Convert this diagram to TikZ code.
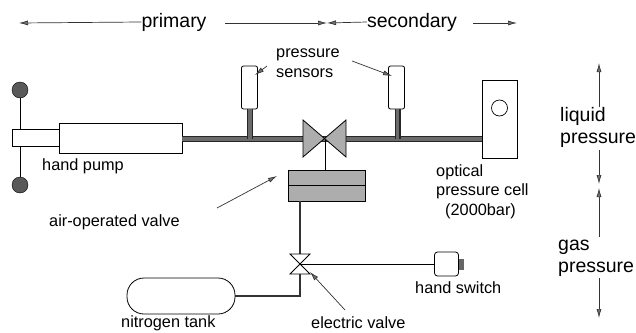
\documentclass[tikz,border=0pt]{standalone}
\usepackage{fontspec}
\setmainfont{Liberation Sans}
\usetikzlibrary{arrows.meta}
\definecolor{pipegray}{gray}{0.42}
\definecolor{fillgray}{gray}{0.68}
\tikzset{
    lbl/.style={inner sep=0pt, align=left, font=\fontsize{16.3}{19.5}\selectfont},
    biglbl/.style={inner sep=0pt, align=left, font=\fontsize{19.5}{22}\selectfont},
    arr/.style={-{Latex[length=9pt,width=5pt,fill=black!55]}, line width=0.7pt, draw=black!80},
    box/.style={draw, line width=0.8pt, fill=white, inner sep=0pt},
    pipe/.style={line width=6pt, draw=black!85, postaction={draw=pipegray, line width=3.5pt}},
    gaspipe/.style={line width=2.8pt, draw=black!80}
}
\begin{document}
\begin{tikzpicture}[x=1pt, y=-1pt]
    \useasboundingbox (0,0) rectangle (636,332);
    % Define pipes first
    \coordinate (tee1) at (250,139);
    \coordinate (tee2) at (397.5,139);
    \coordinate (vc) at (325,139);
    \coordinate (ev) at (300,264);
    \coordinate (bend) at (300,296);

    % Define nodes
    \node[biglbl] (primary) at (174,22) {primary};
    \node[biglbl] (secondary) at (412,22) {secondary};
    \node[circle, fill=black!65, draw=black, inner sep=0pt, minimum size=16pt] (knob1) at (20,90) {};
    \node[circle, fill=black!65, draw=black, inner sep=0pt, minimum size=16pt] (knob2) at (20,185) {};
    \draw[line width=0.8pt] (knob1) -- (knob2);
    \node[box, minimum width=47pt, minimum height=17pt] (piston) at (36,137.5) {};
    \node[box, minimum width=123pt, minimum height=30pt] (pump) at (120.5,138) {};
    \node[box, rounded corners=2pt, minimum width=16pt, minimum height=43pt] (sensor1) at (249.5,87.5) {};
    \node[box, rounded corners=2pt, minimum width=16pt, minimum height=43pt] (sensor2) at (396.5,87.5) {};
    \node[box, minimum width=35pt, minimum height=78pt] (cell) at (499.5,119) {};
    \node[draw, circle, line width=0.7pt, minimum size=16pt, inner sep=0pt] (window) at (499.5,108) {};
    \node[box, fill=fillgray, minimum width=77pt, minimum height=31pt] (air) at (327,185.5) {};
    \node[box, rounded corners=3pt, minimum width=24pt, minimum height=24pt] (switch) at (446.5,264) {};
    \node[inner sep=0pt, fill=black!60, minimum width=5pt, minimum height=11pt, anchor=west] (button) at (switch.east) {};
    \node[draw, line width=0.8pt, rounded corners=17pt, minimum width=108pt, minimum height=36pt, inner sep=0pt] (tank) at (181,296) {};

    % Draw lines
    \draw[line width=0.8pt] (air.west) -- (air.east);
    \draw[pipe] (pump.east |- vc) -- (cell.west |- vc);
    \draw[pipe] (sensor1.south -| tee1) -- (tee1);
    \draw[pipe] (sensor2.south -| tee2) -- (tee2);
    \draw[line width=0.8pt] (vc) -- (air.north -| vc);
    \draw[gaspipe] (air.south -| ev) -- (ev);
    \draw[gaspipe] (ev) -- (bend) -- (tank.east |- bend);
    \draw[line width=0.8pt] (ev) -- (switch.west);

    % Valves
    \draw[line width=0.8pt, fill=fillgray] (303,120) -- (346,157) -- (346,120) -- (303,157) -- cycle;
    \draw[line width=0.8pt, fill=white] (290,254) -- (310,274) -- (290,274) -- (310,254) -- cycle;

    % Add labels
    \node[lbl, anchor=west] (pumplbl) at (42,166) {hand pump};
    \node[lbl, anchor=west] (sensorlbl) at (276,63) {pressure\\sensors};
    \node[lbl, anchor=west] (airlbl) at (49,222) {air-operated valve};
    \node[lbl, anchor=west] (celllbl) at (436,191.5) {optical\\pressure cell\\\hspace*{9pt}(2000bar)};
    \node[lbl, anchor=west] (switchlbl) at (415,288) {hand switch};
    \node[lbl, anchor=west] (tanklbl) at (121,323) {nitrogen tank};
    \node[lbl, anchor=west] (valvelbl) at (311,323) {electric valve};
    \node[biglbl, anchor=west] (liquid) at (560,127) {liquid\\pressure};
    \node[biglbl, anchor=west] (gas) at (558,258) {gas\\pressure};

    % Define free ends of the arrows
    \coordinate (p1) at (19,23);
    \coordinate (p2) at (225,23);
    \coordinate (p3) at (327,23);
    \coordinate (s1) at (473,23);
    \coordinate (s2) at (517,23);

    % Draw arrows
    \draw[arr] (primary.west) -- (p1);
    \draw[arr] (p2) -- (p3);
    \draw[arr] (secondary.west) -- (p3);
    \draw[arr] (s1) -- (s2);
    \draw[arr] (599,107) -- (599,63);
    \draw[arr] (599,150) -- (599,184);
    \draw[arr] (599,237) -- (599,188);
    \draw[arr] (599,278) -- (599,318);
    \draw[arr] (267,66) -- (255,75);
    \draw[arr] (352,61) -- (392,76);
    \draw[arr] (217,208) -- (277,176);
    \draw[arr] (345,310) -- (310,272);
\end{tikzpicture}
\end{document}
